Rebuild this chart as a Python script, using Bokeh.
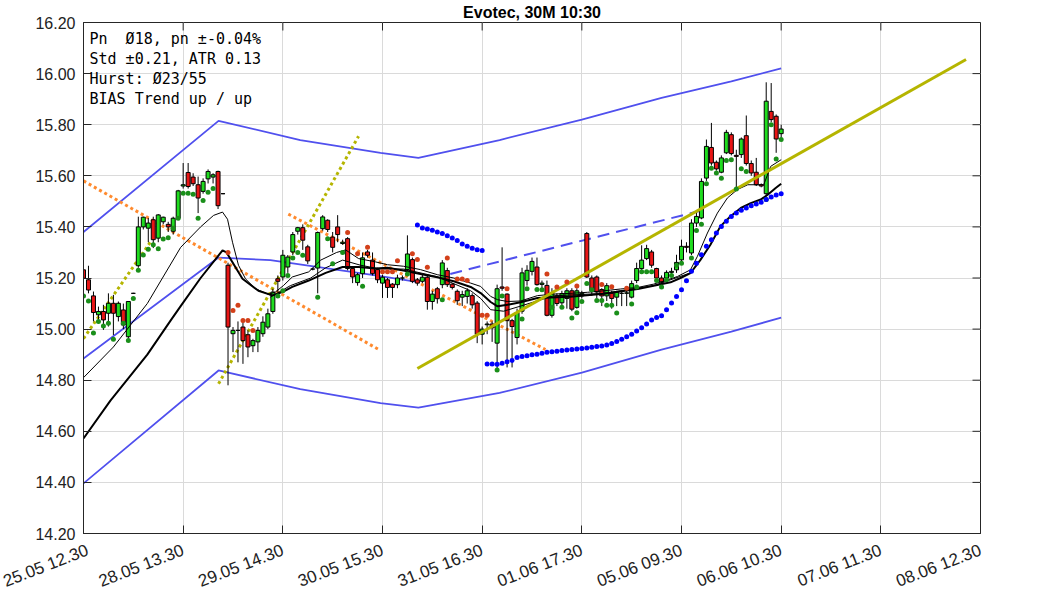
from bokeh.plotting import figure
from bokeh.models import (ColumnDataSource, FixedTicker, Range1d,
                          PrintfTickFormatter, Label)
from bokeh.embed import file_html
from bokeh.resources import INLINE

# ---------------- data ----------------
x_tick_pos = [0, 20, 40, 60, 80, 100, 120, 140, 160, 180]
x_tick_labels = ["25.05 12.30", "28.05 13.30", "29.05 14.30", "30.05 15.30", "31.05 16.30",
                 "01.06 17.30", "05.06 09.30", "06.06 10.30", "07.06 11.30", "08.06 12.30"]
y_ticks = [14.2, 14.4, 14.6, 14.8, 15.0, 15.2, 15.4, 15.6, 15.8, 16.0, 16.2]

bar_index = list(range(141))
opens = [15.232, 15.193, 15.130, 15.056, 15.069, 15.062, 15.101, 15.049, 15.075, 14.970,
         15.140, 15.248, 15.400, 15.395, 15.428, 15.356, 15.420, 15.410, 15.383, 15.434,
         15.560, 15.613, 15.595, 15.565, 15.539, 15.588, 15.595, 15.617, 15.530, 15.250,
         14.982, 14.995, 15.008, 14.978, 14.935, 14.950, 14.982, 15.008, 15.069, 15.197,
         15.204, 15.243, 15.302, 15.383, 15.397, 15.322, 15.235, 15.239, 15.393, 15.426,
         15.360, 15.400, 15.335, 15.354, 15.237, 15.182, 15.217, 15.302, 15.270, 15.233,
         15.180, 15.193, 15.176, 15.174, 15.200, 15.233, 15.272, 15.193, 15.187, 15.203,
         15.108, 15.158, 15.174, 15.229, 15.176, 15.148, 15.125, 15.128, 15.131, 15.102,
         14.980, 15.017, 15.020, 14.945, 15.165, 15.137, 15.033, 14.967, 15.070, 15.190,
         15.226, 15.243, 15.175, 15.171, 15.054, 15.130, 15.103, 15.120, 15.150, 15.085,
         15.130, 15.374, 15.200, 15.204, 15.155, 15.130, 15.140, 15.125, 15.140, 15.140,
         15.125, 15.190, 15.237, 15.276, 15.302, 15.237, 15.200, 15.200, 15.222, 15.232,
         15.271, 15.324, 15.298, 15.415, 15.435, 15.591, 15.711, 15.653, 15.614, 15.690,
         15.761, 15.680, 15.683, 15.757, 15.648, 15.614, 15.565, 15.530, 15.852, 15.833,
         15.765]
highs = [15.245, 15.248, 15.147, 15.088, 15.095, 15.140, 15.134, 15.108, 15.100, 15.108,
         15.142, 15.440, 15.440, 15.435, 15.440, 15.450, 15.440, 15.420, 15.440, 15.545,
         15.650, 15.650, 15.610, 15.597, 15.590, 15.625, 15.610, 15.620, 15.532, 15.260,
         15.008, 15.030, 15.027, 14.995, 14.962, 15.008, 15.050, 15.080, 15.158, 15.210,
         15.310, 15.290, 15.380, 15.400, 15.410, 15.330, 15.240, 15.382, 15.446, 15.430,
         15.380, 15.446, 15.350, 15.360, 15.240, 15.220, 15.300, 15.310, 15.300, 15.240,
         15.213, 15.200, 15.180, 15.213, 15.210, 15.367, 15.280, 15.200, 15.213, 15.210,
         15.150, 15.165, 15.270, 15.240, 15.180, 15.155, 15.150, 15.160, 15.140, 15.110,
         15.010, 15.030, 15.030, 15.174, 15.320, 15.140, 15.040, 15.080, 15.240, 15.250,
         15.280, 15.280, 15.190, 15.190, 15.160, 15.140, 15.150, 15.160, 15.160, 15.160,
         15.150, 15.380, 15.210, 15.210, 15.160, 15.180, 15.150, 15.150, 15.150, 15.150,
         15.190, 15.260, 15.328, 15.330, 15.310, 15.240, 15.210, 15.230, 15.240, 15.291,
         15.350, 15.340, 15.430, 15.461, 15.590, 15.742, 15.807, 15.660, 15.680, 15.780,
         15.770, 15.702, 15.750, 15.836, 15.660, 15.670, 15.570, 15.966, 15.963, 15.840,
         15.800]
lows = [15.190, 15.140, 15.030, 15.023, 14.997, 15.010, 14.977, 15.030, 15.000, 14.958,
        15.138, 15.240, 15.390, 15.340, 15.317, 15.340, 15.410, 15.380, 15.370, 15.430,
        15.550, 15.550, 15.560, 15.454, 15.530, 15.570, 15.570, 15.470, 15.528, 14.780,
        14.910, 14.870, 14.864, 14.890, 14.910, 14.910, 14.970, 15.000, 15.060, 15.145,
        15.190, 15.220, 15.290, 15.370, 15.310, 15.255, 15.230, 15.140, 15.385, 15.380,
        15.300, 15.340, 15.330, 15.230, 15.180, 15.170, 15.200, 15.280, 15.210, 15.180,
        15.122, 15.122, 15.122, 15.160, 15.190, 15.225, 15.180, 15.170, 15.180, 15.076,
        15.076, 15.100, 15.160, 15.165, 15.155, 15.095, 15.090, 15.100, 15.080, 14.945,
        14.940, 14.980, 14.950, 14.847, 15.150, 14.850, 14.850, 14.940, 15.060, 15.170,
        15.210, 15.170, 15.160, 15.050, 15.045, 15.090, 15.090, 15.080, 15.070, 15.080,
        15.120, 15.200, 15.130, 15.120, 15.090, 15.110, 15.080, 15.090, 15.090, 15.090,
        15.120, 15.180, 15.230, 15.270, 15.240, 15.190, 15.175, 15.190, 15.210, 15.220,
        15.260, 15.300, 15.290, 15.400, 15.430, 15.580, 15.640, 15.620, 15.610, 15.685,
        15.680, 15.546, 15.670, 15.640, 15.600, 15.560, 15.555, 15.520, 15.810, 15.690,
        15.750]
closes = [15.199, 15.153, 15.065, 15.069, 15.036, 15.101, 15.062, 15.101, 15.016, 15.108,
          15.140, 15.400, 15.438, 15.415, 15.350, 15.447, 15.438, 15.400, 15.434, 15.541,
          15.565, 15.558, 15.569, 15.513, 15.578, 15.617, 15.604, 15.483, 15.530, 15.008,
          14.995, 14.995, 14.955, 14.930, 14.955, 14.995, 15.027, 15.060, 15.145, 15.187,
          15.289, 15.282, 15.370, 15.397, 15.348, 15.267, 15.235, 15.378, 15.439, 15.390,
          15.320, 15.370, 15.340, 15.237, 15.204, 15.213, 15.279, 15.289, 15.217, 15.193,
          15.203, 15.163, 15.163, 15.200, 15.200, 15.294, 15.187, 15.180, 15.203, 15.108,
          15.137, 15.119, 15.259, 15.174, 15.163, 15.111, 15.135, 15.150, 15.095, 14.980,
          15.000, 15.020, 15.005, 15.158, 15.160, 15.033, 15.010, 15.065, 15.220, 15.230,
          15.265, 15.174, 15.180, 15.054, 15.140, 15.100, 15.139, 15.150, 15.078, 15.150,
          15.140, 15.204, 15.150, 15.145, 15.130, 15.170, 15.120, 15.145, 15.140, 15.142,
          15.178, 15.237, 15.270, 15.315, 15.250, 15.200, 15.184, 15.222, 15.226, 15.261,
          15.324, 15.320, 15.415, 15.441, 15.578, 15.715, 15.650, 15.627, 15.670, 15.770,
          15.687, 15.676, 15.744, 15.648, 15.611, 15.565, 15.560, 15.892, 15.820, 15.744,
          15.783]

# trend-following dots
green_dot_i = [0, 1, 2, 3, 4, 5, 6, 8, 9, 10, 11, 12, 13, 14, 15, 16, 17, 18, 19, 20, 21, 22, 23, 24, 25, 26,
               39, 40, 41, 42, 43, 44, 47, 49, 50, 52, 56, 65, 72, 83, 84,
               88, 89, 91, 92, 94, 96, 98, 99, 100, 101, 102, 103, 104, 105, 106, 107, 110, 111, 112,
               113, 114, 115, 116, 117, 118, 119, 120, 122, 123, 124, 125, 126, 127, 128, 129, 130,
               131, 132, 133, 137, 138, 139, 140]
green_dot_v = [15.130, 15.110, 14.985, 15.030, 15.012, 15.023, 14.960, 15.023, 14.955, 15.120, 15.230,
               15.290, 15.313, 15.330, 15.314, 15.353, 15.358, 15.395, 15.434, 15.532, 15.532, 15.528,
               15.434, 15.503, 15.536, 15.550,
               15.130, 15.150, 15.210, 15.278, 15.300, 15.289, 15.125, 15.354, 15.256, 15.300, 15.168,
               15.216, 15.115, 14.840, 15.130,
               15.040, 15.158, 15.155, 15.154, 15.086, 15.086, 15.043, 15.064, 15.108, 15.178, 15.154,
               15.112, 15.112, 15.093, 15.093, 15.063, 15.098, 15.165, 15.224,
               15.224, 15.224, 15.190, 15.165, 15.193, 15.210, 15.250, 15.258, 15.278, 15.386, 15.410,
               15.569, 15.630, 15.611, 15.590, 15.660, 15.663,
               15.548, 15.628, 15.617, 15.507, 15.800, 15.666, 15.742]
red_dot_i = [29, 30, 31, 32, 33, 34, 53, 55, 57, 60, 61, 62, 63, 66, 67, 69, 73, 75, 76, 77, 80, 81,
             85, 93, 95, 97, 99, 104, 106, 109]
red_dot_v = [15.300, 15.073, 15.093, 15.034, 15.034, 14.995, 15.378, 15.295, 15.320, 15.224, 15.224,
             15.224, 15.268, 15.295, 15.272, 15.242, 15.278, 15.196, 15.196, 15.190, 15.054, 15.054,
             15.158, 15.216, 15.165, 15.184, 15.169, 15.175, 15.166, 15.160]

# stop-and-reverse dots
sar_a_i = list(range(67, 81))
sar_a_v = [15.407, 15.396, 15.392, 15.387, 15.380, 15.374, 15.365, 15.357, 15.347, 15.333,
           15.324, 15.316, 15.311, 15.308]
sar_b_i = list(range(81, 141))
sar_b_v = [14.863, 14.863, 14.862, 14.866, 14.872, 14.877, 14.889, 14.893, 14.896, 14.900,
           14.902, 14.905, 14.909, 14.911, 14.913, 14.916, 14.918, 14.920, 14.922, 14.924,
           14.926, 14.929, 14.932, 14.934, 14.938, 14.944, 14.951, 14.960, 14.970, 14.980,
           14.993, 15.005, 15.020, 15.036, 15.045, 15.052, 15.076, 15.102, 15.128, 15.154,
           15.189, 15.226, 15.258, 15.291, 15.324, 15.350, 15.376, 15.402, 15.422, 15.441,
           15.454, 15.465, 15.474, 15.483, 15.490, 15.496, 15.507, 15.517, 15.525, 15.530]

# moving averages
ma_fast_i = [0, 6.0, 12.8, 19.5, 23.5, 26.1, 27.9, 28.9, 29.9, 31.1, 32.5, 34.5, 37.1, 38.5, 40.1,
             41.9, 45.2, 47.6, 50.8, 52.6, 55.2, 58.6, 61.0, 64.2, 67.6, 71.0, 74.3, 77.7, 79.7,
             81.7, 83.1, 85.1, 87.7, 91.1, 94.3, 97.7, 101.1, 104.4, 107.8, 111.2, 114.4, 116.8,
             119.2, 121.8, 123.2, 125.2, 127.2, 129.2, 131.2, 133.3, 136.5, 137.9, 140]
ma_fast_v = [14.81, 14.93, 15.10, 15.32, 15.40, 15.445, 15.458, 15.43, 15.34, 15.25, 15.197, 15.158,
             15.136, 15.145, 15.17, 15.204, 15.224, 15.27, 15.30, 15.31, 15.276, 15.263, 15.252,
             15.246, 15.233, 15.213, 15.20, 15.18, 15.167, 15.128, 15.115, 15.108, 15.11, 15.131,
             15.137, 15.14, 15.144, 15.15, 15.157, 15.163, 15.176, 15.19, 15.206, 15.232, 15.285,
             15.376, 15.454, 15.513, 15.546, 15.565, 15.565, 15.637, 15.663]
ma_mid_i = [37.5, 41.5, 45.6, 48.6, 52.0, 55.6, 59.6, 64.2, 71.0, 77.7, 79.7, 81.7, 84.3, 87.7,
            94.3, 104.4, 114.4, 121.8]
ma_mid_v = [15.125, 15.17, 15.20, 15.24, 15.27, 15.25, 15.235, 15.235, 15.205, 15.15, 15.12,
            15.076, 15.07, 15.09, 15.13, 15.14, 15.17, 15.22]
ma_slow_i = [0, 5.4, 12.8, 17.5, 19.5, 23.5, 27.9, 28.7, 31.9, 35.1, 37.9, 39.9, 41.9, 45.2, 48.6,
             52.0, 55.2, 58.6, 61.0, 64.2, 67.6, 71.0, 74.3, 77.7, 79.7, 81.7, 83.1, 85.1, 87.7,
             91.1, 97.7, 104.4, 111.2, 114.4, 117.8, 119.8, 121.8, 123.8, 125.8, 127.8, 129.8,
             131.9, 133.9, 135.9, 137.3, 138.9, 140]
ma_slow_v = [14.572, 14.72, 14.90, 15.034, 15.09, 15.20, 15.308, 15.30, 15.197, 15.15, 15.132,
             15.145, 15.165, 15.19, 15.22, 15.243, 15.243, 15.237, 15.24, 15.229, 15.216, 15.203,
             15.187, 15.165, 15.141, 15.106, 15.089, 15.095, 15.105, 15.122, 15.127, 15.138,
             15.157, 15.17, 15.183, 15.20, 15.219, 15.271, 15.33, 15.402, 15.441, 15.474, 15.493,
             15.507, 15.526, 15.552, 15.569]

# regression channel
ch_up_i = [0, 27.1, 43.5, 59.6, 67.2, 83.5, 100, 116, 130, 140]
ch_up_v = [15.38, 15.815, 15.74, 15.69, 15.67, 15.74, 15.82, 15.905, 15.97, 16.02]
ch_mid_i = [0, 27.1, 37.5, 58.6, 67.2]
ch_mid_v = [14.885, 15.28, 15.27, 15.21, 15.184]
ch_lo_i = [0, 27.1, 43.5, 59.6, 67.2, 83.5, 100, 116, 130, 140]
ch_lo_v = [14.396, 14.838, 14.765, 14.71, 14.693, 14.75, 14.83, 14.92, 14.99, 15.045]
ch_proj_i = [73.6, 124.2]
ch_proj_v = [15.216, 15.465]

# trend lines
down1_i = [0, 59.6]
down1_v = [15.58, 14.916]
down2_i = [41.1, 92.7]
down2_v = [15.45, 14.92]
up1_i = [0, 13.4]
up1_v = [14.963, 15.34]
up2_i = [27.1, 55.2]
up2_v = [14.786, 15.755]
main_trend_i = [67.0, 177.1]
main_trend_v = [14.846, 16.055]

info_lines = ["Pn \u00a0\u00d818, pn \u00b1-0.04%", "Std \u00b10.21, ATR 0.13",
              "Hurst: \u00d823/55", "BIAS Trend up / up"]
title_text = "Evotec, 30M 10:30"

# ---------------- figure ----------------
AX = "#262626"
X0, X1, Y0, Y1 = 0, 180, 14.2, 16.2
FW, FH = 897, 511
p = figure(frame_width=FW, frame_height=FH,
           x_range=Range1d(X0, X1), y_range=Range1d(Y0, Y1),
           output_backend="svg", toolbar_location=None,
           min_border_left=83, min_border_right=70, min_border_top=22, min_border_bottom=10)
p.background_fill_color = "white"
p.border_fill_color = "white"
p.outline_line_color = AX
p.outline_line_width = 1

p.title.text = title_text
p.title.align = "center"
p.title.text_font = "Liberation Sans"
p.title.text_font_size = "16px"
p.title.text_font_style = "bold"
p.title.text_color = "black"
p.title.standoff = 3

xt = FixedTicker(ticks=x_tick_pos)
yt = FixedTicker(ticks=y_ticks)

xa = p.xaxis[0]
xa.ticker = xt
xa.major_label_overrides = {t: s for t, s in zip(x_tick_pos, x_tick_labels)}
xa.major_label_orientation = 0.37
xa.major_tick_in = 8
xa.major_tick_out = 0
xa.minor_tick_in = 0
xa.minor_tick_out = 0
xa.axis_line_color = AX
xa.major_tick_line_color = AX
xa.major_label_text_font = "Liberation Sans"
xa.major_label_text_font_size = "17px"
xa.major_label_text_color = "#222222"
xa.major_label_standoff = 16

ya = p.yaxis[0]
ya.ticker = yt
ya.formatter = PrintfTickFormatter(format="%.2f")
ya.major_tick_in = 8
ya.major_tick_out = 0
ya.minor_tick_in = 0
ya.minor_tick_out = 0
ya.axis_line_color = AX
ya.major_tick_line_color = AX
ya.major_label_text_font = "Liberation Sans"
ya.major_label_text_font_size = "16px"
ya.major_label_text_color = "#222222"
ya.major_label_standoff = 8

p.xgrid.ticker = xt
p.ygrid.ticker = yt
p.xgrid.grid_line_color = "#dadada"
p.ygrid.grid_line_color = "#dadada"

# inward ticks on the right and top frame edges (8 px long)
dx8 = 8 * (X1 - X0) / FW
dy8 = 8 * (Y1 - Y0) / FH
p.segment(x0=[X1] * len(y_ticks), y0=y_ticks, x1=[X1 - dx8] * len(y_ticks), y1=y_ticks,
          line_color=AX, line_width=1)
p.segment(x0=x_tick_pos, y0=[Y1] * len(x_tick_pos), x1=x_tick_pos, y1=[Y1 - dy8] * len(x_tick_pos),
          line_color=AX, line_width=1)

BLUE = "#5050ee"
ORANGE = "#ff8a2e"
OLIVE = "#b5b500"

# channel
p.line(ch_up_i, ch_up_v, line_color=BLUE, line_width=1.8)
p.line(ch_mid_i, ch_mid_v, line_color=BLUE, line_width=1.8)
p.line(ch_lo_i, ch_lo_v, line_color=BLUE, line_width=1.8)
p.line(ch_proj_i, ch_proj_v, line_color=BLUE, line_width=2, line_dash="12 7")

# dotted trend lines
p.line(down1_i, down1_v, line_color=ORANGE, line_width=3, line_dash="3 3")
p.line(down2_i, down2_v, line_color=ORANGE, line_width=3, line_dash="3 3")
p.line(up1_i, up1_v, line_color=OLIVE, line_width=3, line_dash="3 3")
p.line(up2_i, up2_v, line_color=OLIVE, line_width=3, line_dash="3 3")

# candles
src = ColumnDataSource(dict(
    x=bar_index, o=opens, h=highs, l=lows, c=closes,
    color=["#1fdc1f" if c >= o else "#e81515" for o, c in zip(opens, closes)]))
p.segment(x0="x", y0="l", x1="x", y1="h", source=src, line_color="black", line_width=1)
p.vbar(x="x", width=0.8, top="o", bottom="c", source=src, fill_color="color",
       line_color="black", line_width=1)

# moving averages
p.line(ma_fast_i, ma_fast_v, line_color="black", line_width=1)
p.line(ma_mid_i, ma_mid_v, line_color="black", line_width=1)
p.line(ma_slow_i, ma_slow_v, line_color="black", line_width=2)

# main trend line
p.line(main_trend_i, main_trend_v, line_color=OLIVE, line_width=3)

# dots
p.scatter(green_dot_i, green_dot_v, marker="circle", size=5, fill_color="#1a8f1a", line_color=None)
p.scatter(red_dot_i, red_dot_v, marker="circle", size=5, fill_color="#d3401a", line_color=None)
p.scatter(sar_a_i, sar_a_v, marker="circle", size=5, fill_color="#0000ff", line_color=None)
p.scatter(sar_b_i, sar_b_v, marker="circle", size=5, fill_color="#0000ff", line_color=None)

# info text
for k, s in enumerate(info_lines):
    base_px = 16.5 + 19.9 * k
    p.add_layout(Label(x=X0, y=Y1 - base_px * (Y1 - Y0) / FH, x_offset=6, text=s,
                       text_font="DejaVu Sans Mono", text_font_size="15px",
                       text_baseline="alphabetic", text_align="left", text_color="black"))

open("out.html", "w").write(file_html(p, INLINE))
